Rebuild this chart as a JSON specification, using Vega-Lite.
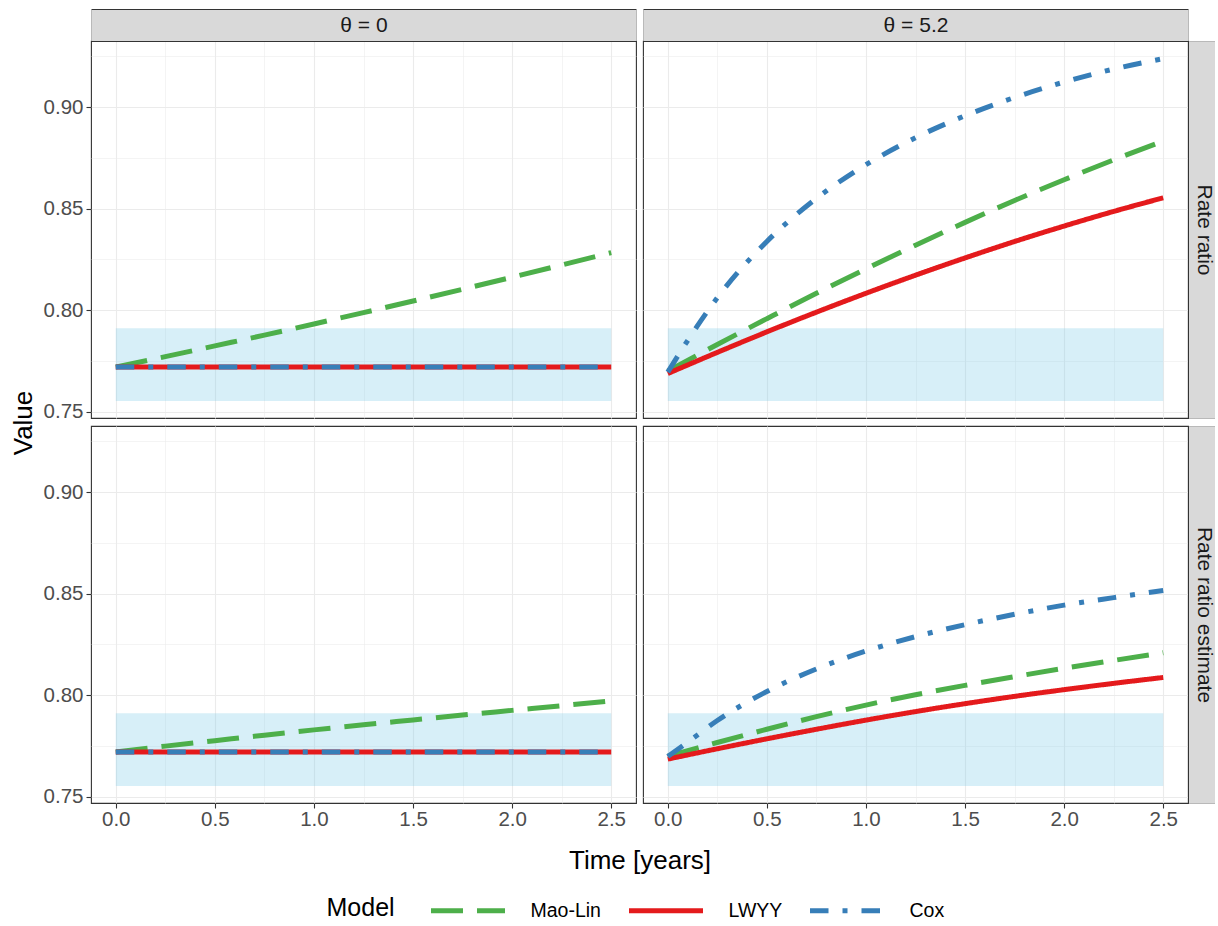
{
"$schema":"https://vega.github.io/schema/vega-lite/v6.json",
"background":"white",
"padding":{"left":9,"top":13,"right":0,"bottom":0},
"datasets":{
 "band":[{"x0":0,"x1":2.5,"lo":0.7553,"hi":0.7911}],
 "curves":[
  {"theta":"0","metric":"Rate ratio","model":"Mao-Lin","t":0,"v":0.772},
  {"theta":"0","metric":"Rate ratio","model":"Mao-Lin","t":0.25,"v":0.7771},
  {"theta":"0","metric":"Rate ratio","model":"Mao-Lin","t":0.5,"v":0.7824},
  {"theta":"0","metric":"Rate ratio","model":"Mao-Lin","t":0.75,"v":0.7877},
  {"theta":"0","metric":"Rate ratio","model":"Mao-Lin","t":1,"v":0.7932},
  {"theta":"0","metric":"Rate ratio","model":"Mao-Lin","t":1.25,"v":0.7988},
  {"theta":"0","metric":"Rate ratio","model":"Mao-Lin","t":1.5,"v":0.8045},
  {"theta":"0","metric":"Rate ratio","model":"Mao-Lin","t":1.75,"v":0.8103},
  {"theta":"0","metric":"Rate ratio","model":"Mao-Lin","t":2,"v":0.8162},
  {"theta":"0","metric":"Rate ratio","model":"Mao-Lin","t":2.25,"v":0.8222},
  {"theta":"0","metric":"Rate ratio","model":"Mao-Lin","t":2.5,"v":0.8283},
  {"theta":"0","metric":"Rate ratio","model":"LWYY","t":0,"v":0.772},
  {"theta":"0","metric":"Rate ratio","model":"LWYY","t":1.25,"v":0.772},
  {"theta":"0","metric":"Rate ratio","model":"LWYY","t":2.5,"v":0.772},
  {"theta":"0","metric":"Rate ratio","model":"Cox","t":0,"v":0.772},
  {"theta":"0","metric":"Rate ratio","model":"Cox","t":1.25,"v":0.772},
  {"theta":"0","metric":"Rate ratio","model":"Cox","t":2.5,"v":0.772},

  {"theta":"0","metric":"Rate ratio estimate","model":"Mao-Lin","t":0,"v":0.772},
  {"theta":"0","metric":"Rate ratio estimate","model":"Mao-Lin","t":0.25,"v":0.7749},
  {"theta":"0","metric":"Rate ratio estimate","model":"Mao-Lin","t":0.5,"v":0.7776},
  {"theta":"0","metric":"Rate ratio estimate","model":"Mao-Lin","t":0.75,"v":0.7803},
  {"theta":"0","metric":"Rate ratio estimate","model":"Mao-Lin","t":1,"v":0.7829},
  {"theta":"0","metric":"Rate ratio estimate","model":"Mao-Lin","t":1.25,"v":0.7854},
  {"theta":"0","metric":"Rate ratio estimate","model":"Mao-Lin","t":1.5,"v":0.7878},
  {"theta":"0","metric":"Rate ratio estimate","model":"Mao-Lin","t":1.75,"v":0.7902},
  {"theta":"0","metric":"Rate ratio estimate","model":"Mao-Lin","t":2,"v":0.7925},
  {"theta":"0","metric":"Rate ratio estimate","model":"Mao-Lin","t":2.25,"v":0.7948},
  {"theta":"0","metric":"Rate ratio estimate","model":"Mao-Lin","t":2.5,"v":0.7972},
  {"theta":"0","metric":"Rate ratio estimate","model":"LWYY","t":0,"v":0.772},
  {"theta":"0","metric":"Rate ratio estimate","model":"LWYY","t":1.25,"v":0.772},
  {"theta":"0","metric":"Rate ratio estimate","model":"LWYY","t":2.5,"v":0.772},
  {"theta":"0","metric":"Rate ratio estimate","model":"Cox","t":0,"v":0.772},
  {"theta":"0","metric":"Rate ratio estimate","model":"Cox","t":1.25,"v":0.772},
  {"theta":"0","metric":"Rate ratio estimate","model":"Cox","t":2.5,"v":0.772},

  {"theta":"5.2","metric":"Rate ratio","model":"Mao-Lin","t":0,"v":0.770},
  {"theta":"5.2","metric":"Rate ratio","model":"Mao-Lin","t":0.25,"v":0.7831},
  {"theta":"5.2","metric":"Rate ratio","model":"Mao-Lin","t":0.5,"v":0.7958},
  {"theta":"5.2","metric":"Rate ratio","model":"Mao-Lin","t":0.75,"v":0.8083},
  {"theta":"5.2","metric":"Rate ratio","model":"Mao-Lin","t":1,"v":0.8203},
  {"theta":"5.2","metric":"Rate ratio","model":"Mao-Lin","t":1.25,"v":0.832},
  {"theta":"5.2","metric":"Rate ratio","model":"Mao-Lin","t":1.5,"v":0.8432},
  {"theta":"5.2","metric":"Rate ratio","model":"Mao-Lin","t":1.75,"v":0.854},
  {"theta":"5.2","metric":"Rate ratio","model":"Mao-Lin","t":2,"v":0.8642},
  {"theta":"5.2","metric":"Rate ratio","model":"Mao-Lin","t":2.25,"v":0.874},
  {"theta":"5.2","metric":"Rate ratio","model":"Mao-Lin","t":2.5,"v":0.8832},
  {"theta":"5.2","metric":"Rate ratio","model":"LWYY","t":0,"v":0.7688},
  {"theta":"5.2","metric":"Rate ratio","model":"LWYY","t":0.25,"v":0.7792},
  {"theta":"5.2","metric":"Rate ratio","model":"LWYY","t":0.5,"v":0.7893},
  {"theta":"5.2","metric":"Rate ratio","model":"LWYY","t":0.75,"v":0.799},
  {"theta":"5.2","metric":"Rate ratio","model":"LWYY","t":1,"v":0.8083},
  {"theta":"5.2","metric":"Rate ratio","model":"LWYY","t":1.25,"v":0.8172},
  {"theta":"5.2","metric":"Rate ratio","model":"LWYY","t":1.5,"v":0.8257},
  {"theta":"5.2","metric":"Rate ratio","model":"LWYY","t":1.75,"v":0.8338},
  {"theta":"5.2","metric":"Rate ratio","model":"LWYY","t":2,"v":0.8414},
  {"theta":"5.2","metric":"Rate ratio","model":"LWYY","t":2.25,"v":0.8486},
  {"theta":"5.2","metric":"Rate ratio","model":"LWYY","t":2.5,"v":0.8553},
  {"theta":"5.2","metric":"Rate ratio","model":"Cox","t":0,"v":0.7695},
  {"theta":"5.2","metric":"Rate ratio","model":"Cox","t":0.125,"v":0.7887},
  {"theta":"5.2","metric":"Rate ratio","model":"Cox","t":0.25,"v":0.8061},
  {"theta":"5.2","metric":"Rate ratio","model":"Cox","t":0.5,"v":0.8338},
  {"theta":"5.2","metric":"Rate ratio","model":"Cox","t":0.75,"v":0.855},
  {"theta":"5.2","metric":"Rate ratio","model":"Cox","t":1,"v":0.8716},
  {"theta":"5.2","metric":"Rate ratio","model":"Cox","t":1.25,"v":0.8849},
  {"theta":"5.2","metric":"Rate ratio","model":"Cox","t":1.5,"v":0.8957},
  {"theta":"5.2","metric":"Rate ratio","model":"Cox","t":1.75,"v":0.9047},
  {"theta":"5.2","metric":"Rate ratio","model":"Cox","t":2,"v":0.9123},
  {"theta":"5.2","metric":"Rate ratio","model":"Cox","t":2.25,"v":0.9187},
  {"theta":"5.2","metric":"Rate ratio","model":"Cox","t":2.5,"v":0.9238},

  {"theta":"5.2","metric":"Rate ratio estimate","model":"Mao-Lin","t":0,"v":0.770},
  {"theta":"5.2","metric":"Rate ratio estimate","model":"Mao-Lin","t":0.25,"v":0.7767},
  {"theta":"5.2","metric":"Rate ratio estimate","model":"Mao-Lin","t":0.5,"v":0.7832},
  {"theta":"5.2","metric":"Rate ratio estimate","model":"Mao-Lin","t":0.75,"v":0.7894},
  {"theta":"5.2","metric":"Rate ratio estimate","model":"Mao-Lin","t":1,"v":0.7951},
  {"theta":"5.2","metric":"Rate ratio estimate","model":"Mao-Lin","t":1.25,"v":0.8002},
  {"theta":"5.2","metric":"Rate ratio estimate","model":"Mao-Lin","t":1.5,"v":0.8048},
  {"theta":"5.2","metric":"Rate ratio estimate","model":"Mao-Lin","t":1.75,"v":0.8091},
  {"theta":"5.2","metric":"Rate ratio estimate","model":"Mao-Lin","t":2,"v":0.8132},
  {"theta":"5.2","metric":"Rate ratio estimate","model":"Mao-Lin","t":2.25,"v":0.8171},
  {"theta":"5.2","metric":"Rate ratio estimate","model":"Mao-Lin","t":2.5,"v":0.8209},
  {"theta":"5.2","metric":"Rate ratio estimate","model":"LWYY","t":0,"v":0.7685},
  {"theta":"5.2","metric":"Rate ratio estimate","model":"LWYY","t":0.25,"v":0.7736},
  {"theta":"5.2","metric":"Rate ratio estimate","model":"LWYY","t":0.5,"v":0.7785},
  {"theta":"5.2","metric":"Rate ratio estimate","model":"LWYY","t":0.75,"v":0.7832},
  {"theta":"5.2","metric":"Rate ratio estimate","model":"LWYY","t":1,"v":0.7877},
  {"theta":"5.2","metric":"Rate ratio estimate","model":"LWYY","t":1.25,"v":0.7919},
  {"theta":"5.2","metric":"Rate ratio estimate","model":"LWYY","t":1.5,"v":0.7958},
  {"theta":"5.2","metric":"Rate ratio estimate","model":"LWYY","t":1.75,"v":0.7994},
  {"theta":"5.2","metric":"Rate ratio estimate","model":"LWYY","t":2,"v":0.8027},
  {"theta":"5.2","metric":"Rate ratio estimate","model":"LWYY","t":2.25,"v":0.8058},
  {"theta":"5.2","metric":"Rate ratio estimate","model":"LWYY","t":2.5,"v":0.8087},
  {"theta":"5.2","metric":"Rate ratio estimate","model":"Cox","t":0,"v":0.7698},
  {"theta":"5.2","metric":"Rate ratio estimate","model":"Cox","t":0.125,"v":0.7786},
  {"theta":"5.2","metric":"Rate ratio estimate","model":"Cox","t":0.25,"v":0.7875},
  {"theta":"5.2","metric":"Rate ratio estimate","model":"Cox","t":0.5,"v":0.8018},
  {"theta":"5.2","metric":"Rate ratio estimate","model":"Cox","t":0.75,"v":0.8129},
  {"theta":"5.2","metric":"Rate ratio estimate","model":"Cox","t":1,"v":0.8217},
  {"theta":"5.2","metric":"Rate ratio estimate","model":"Cox","t":1.25,"v":0.8288},
  {"theta":"5.2","metric":"Rate ratio estimate","model":"Cox","t":1.5,"v":0.8347},
  {"theta":"5.2","metric":"Rate ratio estimate","model":"Cox","t":1.75,"v":0.8398},
  {"theta":"5.2","metric":"Rate ratio estimate","model":"Cox","t":2,"v":0.8443},
  {"theta":"5.2","metric":"Rate ratio estimate","model":"Cox","t":2.25,"v":0.848},
  {"theta":"5.2","metric":"Rate ratio estimate","model":"Cox","t":2.5,"v":0.8515}
 ]
},
"columns":2,
"spacing":{"row":8,"column":7},
"bounds":"flush",
"concat":[
 {
  "width":545,"height":377,
  "resolve":{"axis":{"x":"independent","y":"independent"}},
  "layer":[
   {"data":{"name":"band"},
    "mark":{"type":"rect","color":"#87ceeb","opacity":0.33},
    "encoding":{
     "x":{"field":"x0","type":"quantitative","scale":{"domain":[-0.125,2.625],"nice":false,"zero":false},
          "axis":{"orient":"bottom","grid":true,"values":[0,0.25,0.5,0.75,1,1.25,1.5,1.75,2,2.25,2.5],"title":null,"labels":false,"ticks":false,"domain":false,
                  "gridWidth":{"condition":{"test":"abs(datum.value*2-round(datum.value*2))<0.001","value":1.1},"value":0.55}}},
     "x2":{"field":"x1"},
     "y":{"field":"lo","type":"quantitative","scale":{"domain":[0.7469,0.9325],"nice":false,"zero":false},
          "axis":{"orient":"left","grid":true,"values":[0.75,0.775,0.8,0.825,0.85,0.875,0.9,0.925],"domain":false,
                  "labelExpr":"abs(datum.value*20-round(datum.value*20))<0.001 ? format(datum.value,'.2f') : ''",
                  "tickOpacity":{"condition":{"test":"abs(datum.value*20-round(datum.value*20))<0.001","value":1},"value":0},
                  "gridWidth":{"condition":{"test":"abs(datum.value*20-round(datum.value*20))<0.001","value":1.1},"value":0.55},
                  "labelOverlap":false,"labelFlush":false,
                  "title":"Value","titleX":-68,"titleY":381.5,"titleAngle":270,"titleAlign":"center","titleBaseline":"middle","titleFontSize":26}},
     "y2":{"field":"hi"}}},
   {"data":{"name":"curves"},
    "transform":[{"filter":"datum.theta=='0' && datum.metric=='Rate ratio' && datum.model!='Cox'"}],
    "mark":{"type":"line","strokeWidth":5,"interpolate":"monotone"},
    "encoding":{
     "x":{"field":"t","type":"quantitative","axis":{"orient":"top","offset":16,"domain":true,"domainColor":"#333333","domainWidth":33,"domainCap":"butt","ticks":false,"labels":false,"grid":false,"title":null}},
     "y":{"field":"v","type":"quantitative","axis":null},
     "color":{"field":"model","type":"nominal","title":"Model","scale":{"domain":["Mao-Lin","LWYY","Cox"],"range":["#4daf4a","#e41a1c","#377eb8"]},"legend":{"orient":"none","legendX":235.5,"legendY":830,"direction":"horizontal"}},
     "strokeDash":{"field":"model","type":"nominal","title":"Model","scale":{"domain":["Mao-Lin","LWYY","Cox"],"range":[[32,14],[1,0],[18.5,14,5,14]]},"legend":{"orient":"none","legendX":235.5,"legendY":830,"direction":"horizontal"}}}},
   {"data":{"name":"curves"},
    "transform":[{"filter":"datum.theta=='0' && datum.metric=='Rate ratio' && datum.model=='Cox'"}],
    "mark":{"type":"line","strokeWidth":5,"interpolate":"monotone"},
    "encoding":{
     "x":{"field":"t","type":"quantitative","axis":{"orient":"top","offset":16,"domain":true,"domainColor":"#d9d9d9","domainWidth":31,"domainCap":"butt","ticks":false,"labels":false,"grid":false,
          "title":"θ = 0","titleX":272.5,"titleY":0,"titleAngle":0,"titleAlign":"center","titleBaseline":"middle","titleFontSize":21,"titleColor":"#1a1a1a"}},
     "y":{"field":"v","type":"quantitative","axis":null},
     "color":{"field":"model","type":"nominal","title":"Model","scale":{"domain":["Mao-Lin","LWYY","Cox"],"range":["#4daf4a","#e41a1c","#377eb8"]},"legend":{"orient":"none","legendX":235.5,"legendY":830,"direction":"horizontal"}},
     "strokeDash":{"field":"model","type":"nominal","title":"Model","scale":{"domain":["Mao-Lin","LWYY","Cox"],"range":[[32,14],[1,0],[18.5,14,5,14]]},"legend":{"orient":"none","legendX":235.5,"legendY":830,"direction":"horizontal"}}}}
  ]
 },
 {
  "width":545,"height":377,
  "resolve":{"axis":{"x":"independent","y":"independent"}},
  "layer":[
   {"data":{"name":"band"},
    "mark":{"type":"rect","color":"#87ceeb","opacity":0.33},
    "encoding":{
     "x":{"field":"x0","type":"quantitative","scale":{"domain":[-0.125,2.625],"nice":false,"zero":false},
          "axis":{"orient":"bottom","grid":true,"values":[0,0.25,0.5,0.75,1,1.25,1.5,1.75,2,2.25,2.5],"title":null,"labels":false,"ticks":false,"domain":false,
                  "gridWidth":{"condition":{"test":"abs(datum.value*2-round(datum.value*2))<0.001","value":1.1},"value":0.55}}},
     "x2":{"field":"x1"},
     "y":{"field":"lo","type":"quantitative","scale":{"domain":[0.7469,0.9325],"nice":false,"zero":false},
          "axis":{"orient":"left","grid":true,"values":[0.75,0.775,0.8,0.825,0.85,0.875,0.9,0.925],"title":null,"labels":false,"ticks":false,"domain":false,
                  "gridWidth":{"condition":{"test":"abs(datum.value*20-round(datum.value*20))<0.001","value":1.1},"value":0.55}}},
     "y2":{"field":"hi"}}},
   {"data":{"name":"curves"},
    "transform":[{"filter":"datum.theta=='5.2' && datum.metric=='Rate ratio' && datum.model!='Cox'"}],
    "mark":{"type":"line","strokeWidth":5,"interpolate":"monotone"},
    "encoding":{
     "x":{"field":"t","type":"quantitative","axis":{"orient":"top","offset":16,"domain":true,"domainColor":"#333333","domainWidth":33,"domainCap":"butt","ticks":false,"labels":false,"grid":false,"title":null}},
     "y":{"field":"v","type":"quantitative","axis":{"orient":"right","offset":15,"domain":true,"domainColor":"#333333","domainWidth":31,"domainCap":"butt","ticks":false,"labels":false,"grid":false,"title":null}},
     "color":{"field":"model","type":"nominal","title":"Model","scale":{"domain":["Mao-Lin","LWYY","Cox"],"range":["#4daf4a","#e41a1c","#377eb8"]},"legend":{"orient":"none","legendX":235.5,"legendY":830,"direction":"horizontal"}},
     "strokeDash":{"field":"model","type":"nominal","title":"Model","scale":{"domain":["Mao-Lin","LWYY","Cox"],"range":[[32,14],[1,0],[18.5,14,5,14]]},"legend":{"orient":"none","legendX":235.5,"legendY":830,"direction":"horizontal"}}}},
   {"data":{"name":"curves"},
    "transform":[{"filter":"datum.theta=='5.2' && datum.metric=='Rate ratio' && datum.model=='Cox'"}],
    "mark":{"type":"line","strokeWidth":5,"interpolate":"monotone"},
    "encoding":{
     "x":{"field":"t","type":"quantitative","axis":{"orient":"top","offset":16,"domain":true,"domainColor":"#d9d9d9","domainWidth":31,"domainCap":"butt","ticks":false,"labels":false,"grid":false,
          "title":"θ = 5.2","titleX":272.5,"titleY":0,"titleAngle":0,"titleAlign":"center","titleBaseline":"middle","titleFontSize":21,"titleColor":"#1a1a1a"}},
     "y":{"field":"v","type":"quantitative","axis":{"orient":"right","offset":15,"domain":true,"domainColor":"#d9d9d9","domainWidth":29,"domainCap":"butt","ticks":false,"labels":false,"grid":false,
          "title":"Rate ratio","titleX":0,"titleY":188.5,"titleAngle":90,"titleAlign":"center","titleBaseline":"middle","titleFontSize":21,"titleColor":"#1a1a1a"}},
     "color":{"field":"model","type":"nominal","title":"Model","scale":{"domain":["Mao-Lin","LWYY","Cox"],"range":["#4daf4a","#e41a1c","#377eb8"]},"legend":{"orient":"none","legendX":235.5,"legendY":830,"direction":"horizontal"}},
     "strokeDash":{"field":"model","type":"nominal","title":"Model","scale":{"domain":["Mao-Lin","LWYY","Cox"],"range":[[32,14],[1,0],[18.5,14,5,14]]},"legend":{"orient":"none","legendX":235.5,"legendY":830,"direction":"horizontal"}}}}
  ]
 },
 {
  "width":545,"height":377,
  "resolve":{"axis":{"x":"independent","y":"independent"}},
  "layer":[
   {"data":{"name":"band"},
    "mark":{"type":"rect","color":"#87ceeb","opacity":0.33},
    "encoding":{
     "x":{"field":"x0","type":"quantitative","scale":{"domain":[-0.125,2.625],"nice":false,"zero":false},
          "axis":{"orient":"bottom","grid":true,"values":[0,0.25,0.5,0.75,1,1.25,1.5,1.75,2,2.25,2.5],"domain":false,
                  "labelExpr":"abs(datum.value*2-round(datum.value*2))<0.001 ? format(datum.value,'.1f') : ''",
                  "tickOpacity":{"condition":{"test":"abs(datum.value*2-round(datum.value*2))<0.001","value":1},"value":0},
                  "gridWidth":{"condition":{"test":"abs(datum.value*2-round(datum.value*2))<0.001","value":1.1},"value":0.55},
                  "labelOverlap":false,"labelFlush":false,
                  "title":"Time [years]","titleX":548.5,"titleY":57.3,"titleAlign":"center","titleBaseline":"middle","titleFontSize":26}},
     "x2":{"field":"x1"},
     "y":{"field":"lo","type":"quantitative","scale":{"domain":[0.7469,0.9325],"nice":false,"zero":false},
          "axis":{"orient":"left","grid":true,"values":[0.75,0.775,0.8,0.825,0.85,0.875,0.9,0.925],"domain":false,"title":null,
                  "labelExpr":"abs(datum.value*20-round(datum.value*20))<0.001 ? format(datum.value,'.2f') : ''",
                  "tickOpacity":{"condition":{"test":"abs(datum.value*20-round(datum.value*20))<0.001","value":1},"value":0},
                  "gridWidth":{"condition":{"test":"abs(datum.value*20-round(datum.value*20))<0.001","value":1.1},"value":0.55},
                  "labelOverlap":false,"labelFlush":false}},
     "y2":{"field":"hi"}}},
   {"data":{"name":"curves"},
    "transform":[{"filter":"datum.theta=='0' && datum.metric=='Rate ratio estimate' && datum.model!='Cox'"}],
    "mark":{"type":"line","strokeWidth":5,"interpolate":"monotone"},
    "encoding":{
     "x":{"field":"t","type":"quantitative","axis":null},
     "y":{"field":"v","type":"quantitative","axis":null},
     "color":{"field":"model","type":"nominal","title":"Model","scale":{"domain":["Mao-Lin","LWYY","Cox"],"range":["#4daf4a","#e41a1c","#377eb8"]},"legend":{"orient":"none","legendX":235.5,"legendY":830,"direction":"horizontal"}},
     "strokeDash":{"field":"model","type":"nominal","title":"Model","scale":{"domain":["Mao-Lin","LWYY","Cox"],"range":[[32,14],[1,0],[18.5,14,5,14]]},"legend":{"orient":"none","legendX":235.5,"legendY":830,"direction":"horizontal"}}}},
   {"data":{"name":"curves"},
    "transform":[{"filter":"datum.theta=='0' && datum.metric=='Rate ratio estimate' && datum.model=='Cox'"}],
    "mark":{"type":"line","strokeWidth":5,"interpolate":"monotone"},
    "encoding":{
     "x":{"field":"t","type":"quantitative","axis":null},
     "y":{"field":"v","type":"quantitative","axis":null},
     "color":{"field":"model","type":"nominal","title":"Model","scale":{"domain":["Mao-Lin","LWYY","Cox"],"range":["#4daf4a","#e41a1c","#377eb8"]},"legend":{"orient":"none","legendX":235.5,"legendY":830,"direction":"horizontal"}},
     "strokeDash":{"field":"model","type":"nominal","title":"Model","scale":{"domain":["Mao-Lin","LWYY","Cox"],"range":[[32,14],[1,0],[18.5,14,5,14]]},"legend":{"orient":"none","legendX":235.5,"legendY":830,"direction":"horizontal"}}}}
  ]
 },
 {
  "width":545,"height":377,
  "resolve":{"axis":{"x":"independent","y":"independent"}},
  "layer":[
   {"data":{"name":"band"},
    "mark":{"type":"rect","color":"#87ceeb","opacity":0.33},
    "encoding":{
     "x":{"field":"x0","type":"quantitative","scale":{"domain":[-0.125,2.625],"nice":false,"zero":false},
          "axis":{"orient":"bottom","grid":true,"values":[0,0.25,0.5,0.75,1,1.25,1.5,1.75,2,2.25,2.5],"domain":false,"title":null,
                  "labelExpr":"abs(datum.value*2-round(datum.value*2))<0.001 ? format(datum.value,'.1f') : ''",
                  "tickOpacity":{"condition":{"test":"abs(datum.value*2-round(datum.value*2))<0.001","value":1},"value":0},
                  "gridWidth":{"condition":{"test":"abs(datum.value*2-round(datum.value*2))<0.001","value":1.1},"value":0.55},
                  "labelOverlap":false,"labelFlush":false}},
     "x2":{"field":"x1"},
     "y":{"field":"lo","type":"quantitative","scale":{"domain":[0.7469,0.9325],"nice":false,"zero":false},
          "axis":{"orient":"left","grid":true,"values":[0.75,0.775,0.8,0.825,0.85,0.875,0.9,0.925],"title":null,"labels":false,"ticks":false,"domain":false,
                  "gridWidth":{"condition":{"test":"abs(datum.value*20-round(datum.value*20))<0.001","value":1.1},"value":0.55}}},
     "y2":{"field":"hi"}}},
   {"data":{"name":"curves"},
    "transform":[{"filter":"datum.theta=='5.2' && datum.metric=='Rate ratio estimate' && datum.model!='Cox'"}],
    "mark":{"type":"line","strokeWidth":5,"interpolate":"monotone"},
    "encoding":{
     "x":{"field":"t","type":"quantitative","axis":null},
     "y":{"field":"v","type":"quantitative","axis":{"orient":"right","offset":15,"domain":true,"domainColor":"#333333","domainWidth":31,"domainCap":"butt","ticks":false,"labels":false,"grid":false,"title":null}},
     "color":{"field":"model","type":"nominal","title":"Model","scale":{"domain":["Mao-Lin","LWYY","Cox"],"range":["#4daf4a","#e41a1c","#377eb8"]},"legend":{"orient":"none","legendX":235.5,"legendY":830,"direction":"horizontal"}},
     "strokeDash":{"field":"model","type":"nominal","title":"Model","scale":{"domain":["Mao-Lin","LWYY","Cox"],"range":[[32,14],[1,0],[18.5,14,5,14]]},"legend":{"orient":"none","legendX":235.5,"legendY":830,"direction":"horizontal"}}}},
   {"data":{"name":"curves"},
    "transform":[{"filter":"datum.theta=='5.2' && datum.metric=='Rate ratio estimate' && datum.model=='Cox'"}],
    "mark":{"type":"line","strokeWidth":5,"interpolate":"monotone"},
    "encoding":{
     "x":{"field":"t","type":"quantitative","axis":null},
     "y":{"field":"v","type":"quantitative","axis":{"orient":"right","offset":15,"domain":true,"domainColor":"#d9d9d9","domainWidth":29,"domainCap":"butt","ticks":false,"labels":false,"grid":false,
          "title":"Rate ratio estimate","titleX":0,"titleY":188.5,"titleAngle":90,"titleAlign":"center","titleBaseline":"middle","titleFontSize":21,"titleColor":"#1a1a1a"}},
     "color":{"field":"model","type":"nominal","title":"Model","scale":{"domain":["Mao-Lin","LWYY","Cox"],"range":["#4daf4a","#e41a1c","#377eb8"]},"legend":{"orient":"none","legendX":235.5,"legendY":830,"direction":"horizontal"}},
     "strokeDash":{"field":"model","type":"nominal","title":"Model","scale":{"domain":["Mao-Lin","LWYY","Cox"],"range":[[32,14],[1,0],[18.5,14,5,14]]},"legend":{"orient":"none","legendX":235.5,"legendY":830,"direction":"horizontal"}}}}
  ]
 }
],
"config":{
 "font":"Liberation Sans",
 "view":{"stroke":"#333333","strokeWidth":1.1},
 "axis":{"gridColor":"#ebebeb","tickColor":"#333333","tickSize":5,"tickWidth":1.1,"labelColor":"#4d4d4d","labelFontSize":20.5,"domain":false,"titleFontWeight":"normal","titleColor":"#000000"},
 "axisX":{"labelPadding":1},
 "axisY":{"labelPadding":3},
 "legend":{"titleOrient":"left","titleAnchor":"middle","titleBaseline":"top","symbolType":"stroke","symbolSize":5476,"symbolStrokeWidth":5,"labelOffset":23,"columnPadding":17,"titlePadding":33,"titleFontSize":25,"titleFontWeight":"normal","titleColor":"#000000","labelFontSize":19.5,"labelColor":"#000000"}
}
}
